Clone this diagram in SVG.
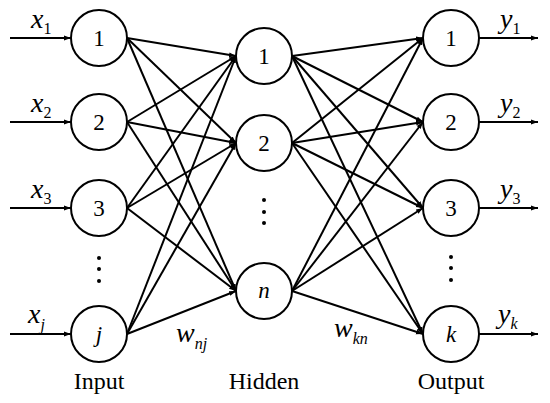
<svg xmlns="http://www.w3.org/2000/svg" width="550" height="403" viewBox="0 0 550 403">
<defs>
<marker id="ah" viewBox="0 0 10 10" refX="10" refY="5" markerWidth="3.5" markerHeight="3.5" orient="auto" markerUnits="strokeWidth"><path d="M0,1.5 L10,5 L0,8.5 z" fill="#000"/></marker>
</defs>
<style>
.n{fill:#fff;stroke:#000;stroke-width:2}
.t{font-family:"Liberation Serif","DejaVu Serif",serif;font-size:23px;text-anchor:middle;fill:#000}
.i{font-style:italic}
.c line{stroke:#000;stroke-width:2;marker-end:url(#ah)}
.v{font-family:"Liberation Serif","DejaVu Serif",serif;font-style:italic;font-size:28px;fill:#000}
.s{font-size:16px}
.lab{font-family:"Liberation Serif","DejaVu Serif",serif;font-size:24px;text-anchor:middle;fill:#000}
</style>
<rect width="550" height="403" fill="#fff"/>
<g class="c" id="connectors">
<line x1="10" y1="38" x2="71" y2="38"/>
<line x1="10" y1="122" x2="71" y2="122"/>
<line x1="10" y1="208" x2="71" y2="208"/>
<line x1="10" y1="334" x2="71" y2="334"/>
<line x1="127" y1="38" x2="236" y2="56"/>
<line x1="127" y1="38" x2="236" y2="143"/>
<line x1="127" y1="38" x2="236" y2="291"/>
<line x1="127" y1="122" x2="236" y2="56"/>
<line x1="127" y1="122" x2="236" y2="143"/>
<line x1="127" y1="122" x2="236" y2="291"/>
<line x1="127" y1="208" x2="236" y2="56"/>
<line x1="127" y1="208" x2="236" y2="143"/>
<line x1="127" y1="208" x2="236" y2="291"/>
<line x1="127" y1="334" x2="236" y2="56"/>
<line x1="127" y1="334" x2="236" y2="143"/>
<line x1="127" y1="334" x2="236" y2="291"/>
<line x1="292" y1="56" x2="423" y2="38"/>
<line x1="292" y1="56" x2="423" y2="122"/>
<line x1="292" y1="56" x2="423" y2="208"/>
<line x1="292" y1="56" x2="423" y2="334"/>
<line x1="292" y1="143" x2="423" y2="38"/>
<line x1="292" y1="143" x2="423" y2="122"/>
<line x1="292" y1="143" x2="423" y2="208"/>
<line x1="292" y1="143" x2="423" y2="334"/>
<line x1="292" y1="291" x2="423" y2="38"/>
<line x1="292" y1="291" x2="423" y2="122"/>
<line x1="292" y1="291" x2="423" y2="208"/>
<line x1="292" y1="291" x2="423" y2="334"/>
<line x1="479" y1="38" x2="538" y2="38"/>
<line x1="479" y1="122" x2="538" y2="122"/>
<line x1="479" y1="208" x2="538" y2="208"/>
<line x1="479" y1="334" x2="538" y2="334"/>
</g>
<g id="in1"><circle class="n" cx="99" cy="38" r="28"/><text class="t" x="99" y="46">1</text></g>
<g id="in2"><circle class="n" cx="99" cy="122" r="28"/><text class="t" x="99" y="130">2</text></g>
<g id="in3"><circle class="n" cx="99" cy="208" r="28"/><text class="t" x="99" y="216">3</text></g>
<g id="inj"><circle class="n" cx="99" cy="334" r="28"/><text class="t i" x="99" y="342">j</text></g>
<g id="h1"><circle class="n" cx="264" cy="56" r="28"/><text class="t" x="264" y="64">1</text></g>
<g id="h2"><circle class="n" cx="264" cy="143" r="28"/><text class="t" x="264" y="151">2</text></g>
<g id="hn"><circle class="n" cx="264" cy="291" r="28"/><text class="t i" x="264" y="298">n</text></g>
<g id="o1"><circle class="n" cx="451" cy="38" r="28"/><text class="t" x="451" y="46">1</text></g>
<g id="o2"><circle class="n" cx="451" cy="122" r="28"/><text class="t" x="451" y="130">2</text></g>
<g id="o3"><circle class="n" cx="451" cy="208" r="28"/><text class="t" x="451" y="216">3</text></g>
<g id="ok"><circle class="n" cx="451" cy="334" r="28"/><text class="t i" x="451" y="342">k</text></g>
<g id="dots" fill="#000">
<circle cx="99" cy="258" r="2"/><circle cx="99" cy="269" r="2"/><circle cx="99" cy="281" r="2"/>
<circle cx="264" cy="200" r="2"/><circle cx="264" cy="212" r="2"/><circle cx="264" cy="223" r="2"/>
<circle cx="451" cy="257" r="2"/><circle cx="451" cy="268" r="2"/><circle cx="451" cy="280" r="2"/>
</g>
<g id="labels">
<text class="v" x="31" y="28">x<tspan class="s" dy="6" font-style="normal">1</tspan></text>
<text class="v" x="31" y="112">x<tspan class="s" dy="6" font-style="normal">2</tspan></text>
<text class="v" x="31" y="198">x<tspan class="s" dy="6" font-style="normal">3</tspan></text>
<text class="v" x="28" y="323">x<tspan class="s" dy="7">j</tspan></text>
<text class="v" x="500" y="28">y<tspan class="s" dy="6" font-style="normal">1</tspan></text>
<text class="v" x="500" y="112">y<tspan class="s" dy="6" font-style="normal">2</tspan></text>
<text class="v" x="500" y="198">y<tspan class="s" dy="6" font-style="normal">3</tspan></text>
<text class="v" x="498" y="323">y<tspan class="s" dy="6">k</tspan></text>
<text class="v" x="176" y="342">w<tspan class="s" dy="7">nj</tspan></text>
<text class="v" x="334" y="337">w<tspan class="s" dy="7">kn</tspan></text>
<text class="lab" x="99" y="389">Input</text>
<text class="lab" x="264" y="389">Hidden</text>
<text class="lab" x="451" y="389">Output</text>
</g>
</svg>
